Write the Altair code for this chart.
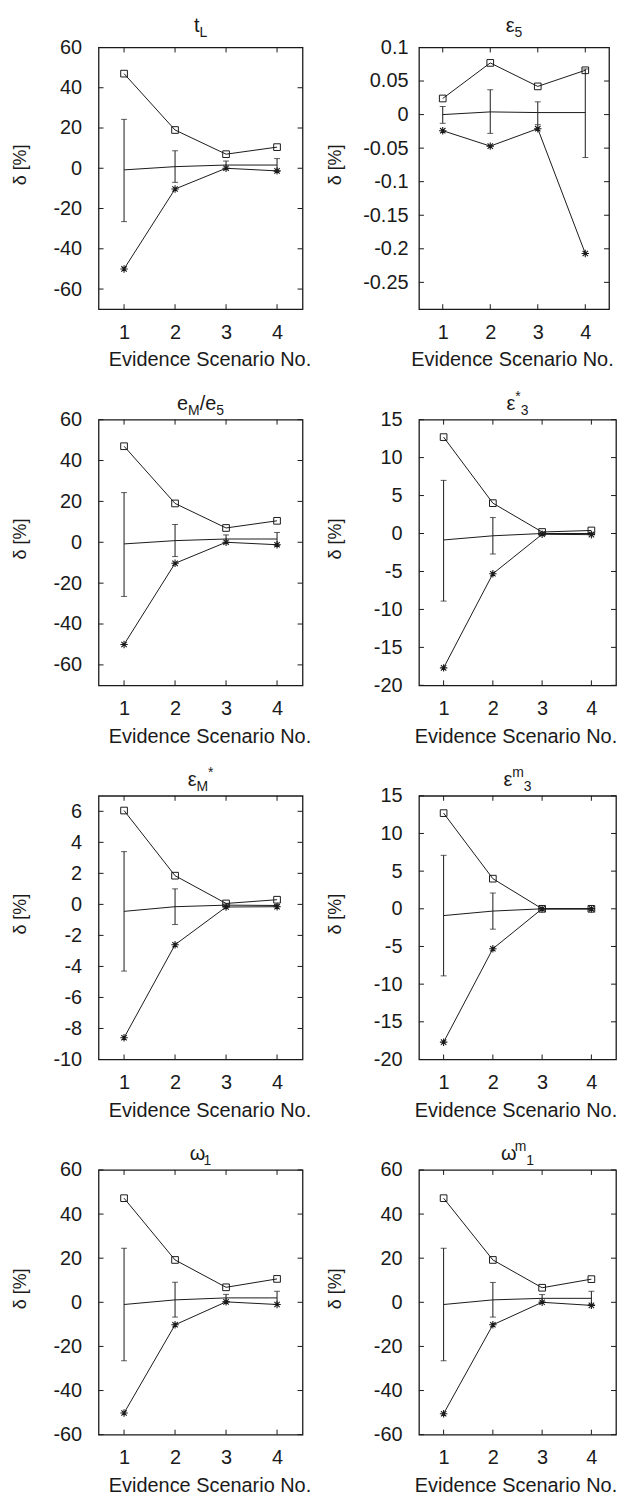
import altair as alt
import pandas as pd

X = [1, 2, 3, 4]

# t_L
tL_max = [47, 19, 7, 10.5]
tL_min = [-50, -10.3, 0, -1.3]
tL_mean = [-0.8, 0.8, 1.6, 1.6]
tL_lo = [-26.5, -7, -0.4, -1.6]
tL_hi = [24.3, 8.7, 3.6, 4.8]

# eps_5
e5_max = [0.024, 0.077, 0.042, 0.066]
e5_min = [-0.024, -0.047, -0.021, -0.207]
e5_mean = [0.0, 0.004, 0.003, 0.003]
e5_lo = [-0.013, -0.028, -0.015, -0.064]
e5_hi = [0.012, 0.037, 0.019, 0.068]

# e_M / e_5
eMe5_max = [47, 19, 7, 10.5]
eMe5_min = [-50, -10.3, 0, -1.2]
eMe5_mean = [-0.8, 0.8, 1.6, 1.6]
eMe5_lo = [-26.5, -7, -0.4, -1.6]
eMe5_hi = [24.3, 8.7, 3.6, 4.8]

# eps*_3
es3_max = [12.7, 4.0, 0.2, 0.4]
es3_min = [-17.7, -5.3, -0.1, -0.15]
es3_mean = [-0.85, -0.3, 0.0, 0.0]
es3_lo = [-8.9, -2.7, -0.15, -0.1]
es3_hi = [7.0, 2.1, 0.15, 0.15]

# eps_M*
eMs_max = [6.05, 1.85, 0.06, 0.3]
eMs_min = [-8.6, -2.6, -0.17, -0.15]
eMs_mean = [-0.45, -0.15, -0.05, -0.07]
eMs_lo = [-4.3, -1.3, -0.12, -0.12]
eMs_hi = [3.4, 1.0, 0.03, 0.0]

# eps^m_3
em3_max = [12.7, 4.0, 0.0, 0.0]
em3_min = [-17.7, -5.3, 0.0, 0.0]
em3_mean = [-0.9, -0.3, 0.0, 0.0]
em3_lo = [-8.9, -2.7, 0.0, 0.0]
em3_hi = [7.1, 2.1, 0.0, 0.0]

# omega_1
w1_max = [47.2, 19.2, 6.8, 10.6]
w1_min = [-50.2, -10.2, 0.2, -1.0]
w1_mean = [-1.0, 1.1, 2.0, 2.0]
w1_lo = [-26.5, -6.7, 0.3, -1.0]
w1_hi = [24.5, 9.1, 3.6, 5.0]

# omega^m_1
wm1_max = [47.2, 19.2, 6.6, 10.5]
wm1_min = [-50.5, -10.2, 0.0, -1.4]
wm1_mean = [-1.0, 1.1, 1.8, 1.8]
wm1_lo = [-26.5, -6.7, 0.2, -1.0]
wm1_hi = [24.5, 9.0, 3.5, 5.0]

T60 = [-60, -40, -20, 0, 20, 40, 60]
T_e5 = [-0.25, -0.2, -0.15, -0.1, -0.05, 0, 0.05, 0.1]
T15 = [-20, -15, -10, -5, 0, 5, 10, 15]
T6 = [-10, -8, -6, -4, -2, 0, 2, 4, 6]

SUB, SUP, BASE = 1, 2, 0
panels = [
    dict(title=[("t", BASE), ("L", SUB)], mx=tL_max, mn=tL_min, mean=tL_mean, lo=tL_lo, hi=tL_hi,
         dom=[-70, 60], ticks=T60, lp=17),
    dict(title=[("ε", BASE), ("5", SUB)], mx=e5_max, mn=e5_min, mean=e5_mean, lo=e5_lo, hi=e5_hi,
         dom=[-0.29, 0.1], ticks=T_e5, lp=11),
    dict(title=[("e", BASE), ("M", SUB), ("/e", BASE), ("5", SUB)], mx=eMe5_max, mn=eMe5_min,
         mean=eMe5_mean, lo=eMe5_lo, hi=eMe5_hi, dom=[-70, 60], ticks=T60, lp=17),
    dict(title=[("ε", BASE), ("*", SUP), ("3", SUB)], mx=es3_max, mn=es3_min, mean=es3_mean,
         lo=es3_lo, hi=es3_hi, dom=[-20, 15], ticks=T15, lp=17),
    dict(title=[("ε", BASE), ("M", SUB), ("*", SUP)], mx=eMs_max, mn=eMs_min, mean=eMs_mean,
         lo=eMs_lo, hi=eMs_hi, dom=[-10, 7], ticks=T6, lp=17),
    dict(title=[("ε", BASE), ("m", SUP), ("3", SUB)], mx=em3_max, mn=em3_min, mean=em3_mean,
         lo=em3_lo, hi=em3_hi, dom=[-20, 15], ticks=T15, lp=17),
    dict(title=[("ω", BASE), ("1", SUB)], mx=w1_max, mn=w1_min, mean=w1_mean, lo=w1_lo, hi=w1_hi,
         dom=[-60, 60], ticks=T60, lp=17),
    dict(title=[("ω", BASE), ("m", SUP), ("1", SUB)], mx=wm1_max, mn=wm1_min, mean=wm1_mean,
         lo=wm1_lo, hi=wm1_hi, dom=[-60, 60], ticks=T60, lp=17),
]

HEIGHTS = [263, 267, 265, 266]
WIDTHS_L = 205
WIDTHS_R = [191, 198, 198, 198]
TITLE_OFF = [16, 10, 10, 10]

FONT = "Liberation Sans"
INK = "#1a1a1a"
CW = {"t": .278, "L": .556, "ε": .44, "5": .556, "e": .556, "M": .833, "/": .278, "*": .389,
      "3": .556, "m": .833, "ω": .69, "1": .556}
ASTER = "M-1,0L1,0M0,-1L0,1M-0.72,-0.72L0.72,0.72M-0.72,0.72L0.72,-0.72"


def title_layers(pieces, W, off):
    sizes = {BASE: 20, SUB: 14, SUP: 14}
    dys = {BASE: 0, SUB: 5, SUP: -9}
    widths = [sum(CW.get(c, .55) for c in t) * sizes[k] for t, k in pieces]
    x0 = -sum(widths) / 2
    out = []
    one = pd.DataFrame({"a": [0]})
    for (t, k), w in zip(pieces, widths):
        out.append(alt.Chart(one).mark_text(text=t, align="left", baseline="alphabetic", font=FONT,
                                            fontSize=sizes[k], color=INK, dx=x0, dy=dys[k])
                   .encode(x=alt.value(W / 2), y=alt.value(-off)))
        x0 += w
    return out


def panel(p, idx):
    row, col = idx // 2, idx % 2
    W = WIDTHS_L if col == 0 else WIDTHS_R[row]
    H = HEIGHTS[row]
    df = pd.DataFrame({"x": X, "mx": p["mx"], "mn": p["mn"], "mean": p["mean"],
                       "lo": p["lo"], "hi": p["hi"]})
    xs = alt.Scale(domain=[0.5, 4.5], nice=False, zero=False)
    ys = alt.Scale(domain=p["dom"], nice=False, zero=False)
    xax = alt.Axis(values=X, title="Evidence Scenario No.", ticks=False, domain=False, grid=False,
                   labelPadding=13, titlePadding=8, titleX=W / 2 + (9 if col == 0 else -2))
    yax = alt.Axis(values=p["ticks"], title="δ [%]", ticks=False, domain=False, grid=False,
                   labelPadding=p["lp"], minExtent=50, maxExtent=50,
                   titlePadding=19 if col == 0 else 25, titleFontSize=18,
                   titleY=H / 2 - 14, labelExpr="'' + datum.value")

    def XE(f):
        return alt.X(f, scale=xs, axis=xax)

    def YE(f):
        return alt.Y(f, scale=ys, axis=yax)

    base = alt.Chart(df)
    layers = [
        base.mark_line(color=INK, strokeWidth=1).encode(x=XE("x:Q"), y=YE("mx:Q")),
        base.mark_line(color=INK, strokeWidth=1).encode(x=XE("x:Q"), y=YE("mn:Q")),
        base.mark_line(color=INK, strokeWidth=1).encode(x=XE("x:Q"), y=YE("mean:Q")),
        base.mark_rule(color=INK, strokeWidth=1).encode(x=XE("x:Q"), y=YE("lo:Q"), y2="hi:Q"),
        base.mark_tick(color=INK, orient="horizontal", size=6, thickness=1).encode(
            x=XE("x:Q"), y=YE("lo:Q")),
        base.mark_tick(color=INK, orient="horizontal", size=6, thickness=1).encode(
            x=XE("x:Q"), y=YE("hi:Q")),
        base.mark_point(shape="square", size=45, filled=False, color=INK, strokeWidth=1, opacity=1).encode(
            x=XE("x:Q"), y=YE("mx:Q")),
        base.mark_point(shape=ASTER, size=56, filled=False, color=INK, strokeWidth=1.1, opacity=1).encode(
            x=XE("x:Q"), y=YE("mn:Q")),
    ]
    yt = alt.Chart(pd.DataFrame({"v": p["ticks"]}))
    xt = alt.Chart(pd.DataFrame({"v": X}))
    layers += [
        yt.mark_rule(color=INK, strokeWidth=1).encode(y=YE("v:Q"), x=alt.value(0), x2=alt.value(5)),
        yt.mark_rule(color=INK, strokeWidth=1).encode(y=YE("v:Q"), x=alt.value(W - 5), x2=alt.value(W)),
        xt.mark_rule(color=INK, strokeWidth=1).encode(x=XE("v:Q"), y=alt.value(H - 5), y2=alt.value(H)),
        xt.mark_rule(color=INK, strokeWidth=1).encode(x=XE("v:Q"), y=alt.value(0), y2=alt.value(5)),
    ]
    layers += title_layers(p["title"], W, TITLE_OFF[row])
    return alt.layer(*layers).properties(width=W, height=H)


charts = [panel(p, i) for i, p in enumerate(panels)]

chart = alt.concat(*charts, columns=2, spacing={"row": 111, "column": 117}, bounds="flush").properties(
    padding={"left": 3, "top": 3, "right": 0, "bottom": 0}
).configure(background="white").configure_view(
    stroke=INK, strokeWidth=1.3, fill="white"
).configure_axis(
    labelFont=FONT, titleFont=FONT, labelFontSize=20, titleFontSize=20,
    labelColor=INK, titleColor=INK, titleFontWeight="normal"
)

chart.save("out.html", embed_options={"renderer": "svg", "actions": False})
